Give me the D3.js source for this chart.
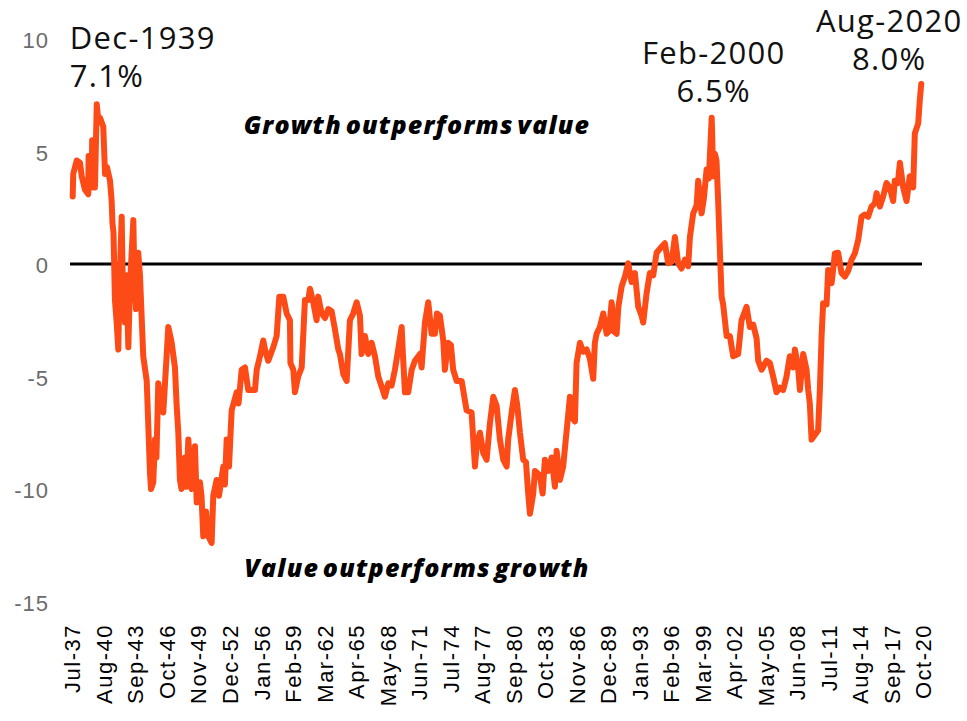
<!DOCTYPE html>
<html>
<head>
<meta charset="utf-8">
<script src="https://cdn.jsdelivr.net/npm/d3@7"></script>
<style>
    body { margin: 0; background: #fff; }
    .tick-label { font-family: "Liberation Sans", Arial, sans-serif; font-size: 22px; letter-spacing: 1.5px; fill: #000; }
    .y-label { font-family: "Liberation Sans", Arial, sans-serif; font-size: 22px; letter-spacing: 1px; fill: #6b6b6b; }
    .note { font-family: "Open Sans", sans-serif; font-size: 31px; letter-spacing: 1.3px; fill: #111; }
    .zone { font-family: "Open Sans", sans-serif; font-size: 25px; font-weight: 800; font-style: italic; letter-spacing: 1.2px; word-spacing: -4px; fill: #000; }
</style>
</head>
<body>
<div id="chart"></div>
<script>

// Growth minus value, rolling return spread (%)
var years = [
    1937.57, 1937.62, 1937.96, 1938.28, 1938.45, 1938.77, 1939.09, 1939.12, 1939.43, 1939.47,
    1939.75, 1939.92, 1940.07, 1940.24, 1940.56, 1940.73, 1940.92, 1941.22, 1941.38, 1941.46,
    1941.56, 1941.70, 1941.87, 1942.03, 1942.15, 1942.36, 1942.49, 1942.68, 1942.83, 1943.01,
    1943.17, 1943.50, 1943.61, 1943.76, 1943.98, 1944.15, 1944.47, 1944.81, 1945.13, 1945.23,
    1945.45, 1945.62, 1945.76, 1945.94, 1946.20, 1946.43, 1946.60, 1946.92, 1947.25, 1947.57,
    1947.74, 1947.90, 1948.06, 1948.21, 1948.55, 1948.70, 1948.88, 1949.21, 1949.53, 1949.70,
    1950.02, 1950.17, 1950.34, 1950.61, 1950.83, 1951.16, 1951.32, 1951.65, 1951.88, 1952.30,
    1952.46, 1952.63, 1952.86, 1953.12, 1953.61, 1953.79, 1954.10, 1954.42, 1954.74, 1955.40,
    1955.57, 1955.89, 1956.21, 1956.43, 1956.70, 1957.19, 1957.52, 1957.78, 1958.17, 1958.50,
    1958.82, 1958.87, 1959.15, 1959.31, 1959.63, 1959.97, 1960.29, 1960.61, 1960.78, 1961.10,
    1961.43, 1961.59, 1961.92, 1962.25, 1962.57, 1962.90, 1963.22, 1963.55, 1963.71, 1964.04,
    1964.37, 1964.69, 1965.01, 1965.35, 1965.67, 1965.83, 1966.16, 1966.48, 1966.81, 1967.14,
    1967.46, 1967.79, 1968.11, 1968.44, 1968.77, 1969.09, 1969.41, 1969.75, 1969.87, 1970.07,
    1970.39, 1970.73, 1971.05, 1971.54, 1971.70, 1972.03, 1972.35, 1972.68, 1973.00, 1973.20,
    1973.49, 1973.82, 1973.98, 1974.30, 1974.57, 1974.79, 1975.13, 1975.62, 1976.10, 1976.59,
    1976.92, 1977.11, 1977.41, 1977.73, 1978.06, 1978.38, 1978.71, 1979.04, 1979.36, 1979.69,
    1980.02, 1980.17, 1980.51, 1980.83, 1981.06, 1981.32, 1981.64, 1981.91, 1982.13, 1982.30,
    1982.62, 1982.79, 1983.27, 1983.54, 1983.76, 1984.09, 1984.42, 1984.74, 1984.91, 1985.23,
    1985.55, 1985.89, 1986.21, 1986.53, 1986.70, 1986.86, 1987.19, 1987.51, 1987.84, 1988.16,
    1988.49, 1988.65, 1988.82, 1989.14, 1989.47, 1989.80, 1990.02, 1990.29, 1990.51, 1990.78,
    1990.95, 1991.27, 1991.59, 1991.91, 1992.24, 1992.57, 1992.89, 1993.22, 1993.38, 1993.71,
    1994.03, 1994.36, 1994.69, 1995.18, 1995.50, 1995.82, 1996.16, 1996.48, 1996.80, 1997.13,
    1997.46, 1997.78, 1997.95, 1998.27, 1998.60, 1998.76, 1999.09, 1999.31, 1999.58, 1999.80,
    2000.08, 2000.23, 2000.39, 2000.55, 2000.71, 2000.88, 2001.05, 2001.20, 2001.37, 2001.54,
    2001.86, 2002.18, 2002.67, 2003.00, 2003.49, 2003.81, 2004.14, 2004.47, 2004.63, 2004.96,
    2005.45, 2005.77, 2006.09, 2006.42, 2006.75, 2007.07, 2007.40, 2007.72, 2008.05, 2008.22,
    2008.51, 2008.71, 2009.03, 2009.36, 2009.52, 2009.68, 2009.85, 2010.17, 2010.49, 2010.66,
    2010.83, 2010.98, 2011.32, 2011.47, 2011.81, 2012.13, 2012.45, 2012.78, 2013.11, 2013.43,
    2013.76, 2014.08, 2014.41, 2014.74, 2015.06, 2015.38, 2015.71, 2016.04, 2016.21, 2016.53,
    2016.85, 2017.18, 2017.50, 2017.83, 2017.99, 2018.29, 2018.49, 2018.81, 2019.14, 2019.46,
    2019.79, 2019.95, 2020.28, 2020.44, 2020.58
];

var spread = [
    3.0, 4.0, 4.6, 4.5, 3.9, 3.3, 3.1, 4.8, 3.4, 5.5,
    3.4, 7.1, 6.4, 6.5, 6.1, 4.0, 4.3, 3.7, 2.8, 1.8,
    1.4, -1.6, -2.6, -3.8, -1.0, 2.1, -1.5, -2.6, -0.5, -3.7,
    -1.0, 1.95, -0.8, -2.0, 0.5, -0.5, -4.1, -5.2, -9.3, -10.0,
    -9.7, -7.8, -8.6, -5.3, -6.2, -6.6, -5.3, -2.8, -3.5, -4.6,
    -6.3, -7.5, -9.6, -10.0, -8.6, -9.9, -7.8, -10.0, -8.1, -10.6,
    -9.7, -10.3, -12.1, -11.0, -12.1, -12.4, -10.3, -9.6, -10.3, -9.0,
    -9.8, -7.8, -9.0, -6.5, -5.7, -6.2, -4.7, -4.6, -5.6, -5.6,
    -4.7, -4.1, -3.4, -3.9, -4.3, -3.7, -3.2, -1.45, -1.45, -2.2,
    -2.5, -4.4, -4.7, -5.7, -5.0, -4.6, -1.6, -1.6, -1.1, -1.7,
    -2.5, -1.45, -2.2, -2.4, -2.0, -2.1, -2.9, -3.8, -4.0, -4.9,
    -5.2, -2.5, -2.2, -1.7, -2.3, -4.0, -3.2, -4.0, -3.5, -4.1,
    -5.0, -5.45, -5.9, -5.3, -5.4, -4.7, -3.8, -2.8, -4.0, -5.7,
    -5.7, -4.7, -4.3, -4.0, -4.6, -2.6, -1.7, -3.1, -3.1, -2.2,
    -2.3, -3.4, -4.7, -3.5, -3.6, -4.7, -5.2, -5.2, -6.5, -6.6,
    -9.0, -8.0, -7.5, -8.4, -8.7, -7.1, -5.9, -6.3, -7.8, -8.7,
    -9.0, -7.8, -6.6, -5.6, -6.3, -7.5, -8.7, -8.8, -10.2, -11.1,
    -10.2, -9.2, -9.4, -10.2, -8.7, -9.2, -8.6, -9.9, -8.3, -9.6,
    -9.0, -7.4, -5.9, -6.9, -7.0, -4.4, -3.5, -3.9, -3.8, -4.2,
    -5.1, -3.5, -3.1, -2.8, -2.2, -3.1, -3.0, -1.7, -3.0, -3.1,
    -1.9, -1.0, -0.56, 0.03, -0.8, -0.4, -1.9, -2.3, -2.6, -1.3,
    -0.4, -0.5, 0.5, 0.77, 0.92, 0.03, 0.1, 1.2, 0.03, -0.2,
    0.2, -0.1, 1.2, 2.25, 2.6, 3.7, 2.25, 2.9, 4.2, 3.8,
    6.5, 3.9, 4.9, 4.6, 2.8, 0.6, -1.45, -1.8, -2.5, -3.2,
    -3.2, -4.1, -4.0, -2.5, -1.9, -2.8, -2.7, -3.3, -4.3, -4.7,
    -4.3, -4.4, -5.0, -5.7, -5.5, -5.6, -5.0, -4.1, -4.6, -3.8,
    -4.5, -5.6, -4.0, -4.7, -5.6, -6.2, -7.8, -7.6, -7.4, -5.6,
    -3.2, -1.75, -1.8, -0.27, -0.85, 0.47, 0.5, -0.4, -0.56, -0.3,
    0.18, 0.47, 1.07, 2.1, 2.2, 2.1, 2.55, 2.7, 3.15, 2.55,
    3.0, 3.6, 3.4, 2.8, 3.7, 3.6, 4.5, 3.4, 2.8, 3.9,
    3.4, 5.8, 6.25, 7.3, 8.0
];

var xTickLabels = [
    'Jul-37', 'Aug-40', 'Sep-43', 'Oct-46', 'Nov-49', 'Dec-52', 'Jan-56', 'Feb-59',
    'Mar-62', 'Apr-65', 'May-68', 'Jun-71', 'Jul-74', 'Aug-77', 'Sep-80', 'Oct-83',
    'Nov-86', 'Dec-89', 'Jan-93', 'Feb-96', 'Mar-99', 'Apr-02', 'May-05', 'Jun-08',
    'Jul-11', 'Aug-14', 'Sep-17', 'Oct-20'
];

var yTicks = [10, 5, 0, -5, -10, -15];

// peak call-outs
var peakYears = [1939.92, 2000.08, 2020.58];
var peakValues = [7.1, 6.5, 8.0];
var peakDates = ['Dec-1939', 'Feb-2000', 'Aug-2020'];

var zoneLabels = ['Growth outperforms value', 'Value outperforms growth'];
var zoneValues = [5.8, -13.9];


var width = 967,
    height = 721;

var monthNames = ['Jan', 'Feb', 'Mar', 'Apr', 'May', 'Jun', 'Jul', 'Aug', 'Sep', 'Oct', 'Nov', 'Dec'];

// "Jul-37" -> 1937.5
function labelToYear(label) {
    var parts = label.split('-');
    var yy = +parts[1];
    var year = yy >= 30 ? 1900 + yy : 2000 + yy;
    return year + monthNames.indexOf(parts[0]) / 12;
}

var x = d3.scaleLinear()
    .domain([labelToYear(xTickLabels[0]), labelToYear(xTickLabels[xTickLabels.length - 1])])
    .range([72, 923]);

var y = d3.scaleLinear()
    .domain([-15, 10])
    .range([601.5, 39]);

var svg = d3.select('#chart').append('svg')
    .attr('width', width)
    .attr('height', height);

// y labels (no axis line)
var yAxis = d3.axisLeft(y)
    .tickValues(yTicks)
    .tickFormat(function(d) { return String(d); })
    .tickSize(0)
    .tickPadding(0);
var yg = svg.append('g')
    .attr('transform', 'translate(49,0)')
    .call(yAxis);
yg.select('.domain').remove();
yg.selectAll('text')
    .attr('class', 'y-label')
    .attr('font-family', null)
    .attr('font-size', null)
    .attr('fill', null)
    .attr('dy', '0.4em');

// x labels, rotated
var xAxis = d3.axisBottom(x)
    .tickValues(xTickLabels.map(labelToYear))
    .tickFormat(function(d, i) { return xTickLabels[i]; })
    .tickSize(0);
var xg = svg.append('g')
    .attr('transform', 'translate(0,624)')
    .call(xAxis);
xg.select('.domain').remove();
xg.selectAll('text')
    .attr('class', 'tick-label')
    .attr('font-family', null)
    .attr('font-size', null)
    .attr('fill', null)
    .attr('transform', 'rotate(-90)')
    .attr('text-anchor', 'end')
    .attr('x', 0)
    .attr('y', 0)
    .attr('dy', '0.36em');

// zero line
svg.append('line')
    .attr('x1', x.range()[0] - 2)
    .attr('x2', x.range()[1] - 1)
    .attr('y1', y(0))
    .attr('y2', y(0))
    .attr('stroke', '#000')
    .attr('stroke-width', 3.2);

// the series
var line = d3.line()
    .x(function(d) { return x(d[0]); })
    .y(function(d) { return y(d[1]); });

svg.append('path')
    .datum(d3.zip(years, spread))
    .attr('d', line)
    .attr('fill', 'none')
    .attr('stroke', '#fd4b18')
    .attr('stroke-width', 6)
    .attr('stroke-linejoin', 'round')
    .attr('stroke-linecap', 'round');

// zone labels
svg.selectAll('.zone')
    .data(zoneLabels)
    .enter().append('text')
    .attr('class', 'zone')
    .attr('x', 417)
    .attr('y', function(d, i) { return y(zoneValues[i]); })
    .attr('text-anchor', 'middle')
    .text(function(d) { return d; });

// peak call-outs, two lines above each peak
var anchors = ['start', 'middle', 'middle'];
var dxs = [-27, 2, -32];
var gaps = [17, 16, 14];
peakDates.forEach(function(label, i) {
    var px = x(peakYears[i]) + dxs[i],
        py = y(peakValues[i]) - gaps[i];
    var t = svg.append('text')
        .attr('class', 'note')
        .attr('text-anchor', anchors[i]);
    t.append('tspan').attr('x', px).attr('y', py - 38).text(label);
    t.append('tspan').attr('x', px).attr('y', py).text(d3.format('.1f')(peakValues[i]) + '%');
});

</script>
</body>
</html>
